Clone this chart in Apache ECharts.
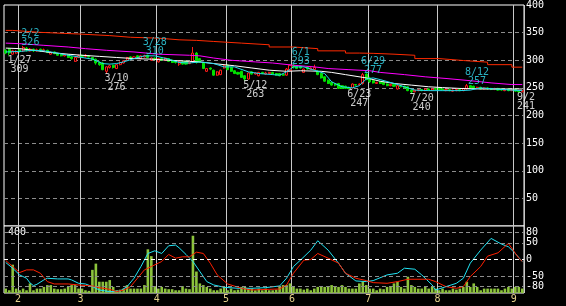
<!DOCTYPE html>
<html><head><meta charset="utf-8">
<script src="https://cdn.jsdelivr.net/npm/echarts@6/dist/echarts.min.js"></script>
<style>html,body{margin:0;padding:0;background:#000;}#c{width:566px;height:306px;}</style>
</head><body><div id="c"></div>
<script>
// ---- data (2022 trading days) ----
const dates = ['01/26','01/27','01/28','01/31',
'02/01','02/02','02/03','02/04','02/07','02/08','02/09','02/10','02/14','02/15','02/16','02/17','02/18','02/21','02/22','02/24','02/25','02/28',
'03/01','03/02','03/03','03/04','03/07','03/08','03/09','03/10','03/11','03/14','03/15','03/16','03/17','03/18','03/22','03/23','03/24','03/25','03/28','03/29','03/30','03/31',
'04/01','04/04','04/05','04/06','04/07','04/08','04/11','04/12','04/13','04/14','04/15','04/18','04/19','04/20','04/21','04/22','04/25','04/26','04/27','04/28',
'05/02','05/06','05/09','05/10','05/11','05/12','05/13','05/16','05/17','05/18','05/19','05/20','05/23','05/24','05/25','05/26','05/27','05/30','05/31',
'06/01','06/02','06/03','06/06','06/07','06/08','06/09','06/10','06/13','06/14','06/15','06/16','06/17','06/20','06/21','06/22','06/23','06/24','06/27','06/28','06/29','06/30',
'07/01','07/04','07/05','07/06','07/07','07/08','07/11','07/12','07/13','07/14','07/15','07/19','07/20','07/21','07/22','07/25','07/26','07/27','07/28','07/29',
'08/01','08/02','08/03','08/04','08/05','08/08','08/09','08/10','08/12','08/15','08/16','08/17','08/18','08/19','08/22','08/23','08/24','08/25','08/26','08/29','08/30','08/31',
'09/01','09/02','09/05'];

// [open, close, low, high]
const ohlc = [
[318,313,311,320],[320,313,309,322],[311,317,310,319],[313,316,312,318],
[319,316,314,321],[317,323,315,326],[322,318,316,324],[317,320,316,322],[320,317,315,321],[317,319,316,321],[320,317,315,321],[317,319,315,321],[318,314,313,319],[311,314,310,316],[315,312,311,316],[312,309,308,313],[311,308,307,312],[308,310,307,311],[310,305,304,311],[306,303,301,307],[298,305,297,306],[305,308,304,310],
[309,307,306,310],[307,309,305,311],[308,306,305,309],[305,301,300,306],[302,295,292,303],[296,292,290,298],[295,283,282,297],[280,288,276,289],[287,290,285,292],[291,287,285,292],[285,292,284,293],[292,296,291,298],[295,299,294,300],[300,305,299,306],[306,303,302,307],[303,306,302,307],[308,305,304,309],[303,308,302,309],[306,308,305,310],[309,305,304,310],[300,304,299,305],[304,302,300,305],
[297,303,296,304],[303,300,299,304],[300,304,299,305],[303,298,297,304],[300,296,295,301],[299,296,294,300],[293,297,290,300],[297,293,292,298],[298,293,292,299],[294,296,293,297],[297,313,295,324],[313,296,294,315],[303,297,296,304],[295,285,284,296],[280,285,279,286],[286,284,282,287],[282,273,272,283],[273,279,272,280],[274,282,273,283],[286,290,285,293],
[291,283,282,292],[287,280,279,288],[281,276,275,282],[278,275,274,279],[280,269,268,281],[272,266,263,273],[266,277,265,278],[279,275,274,280],[275,277,274,278],[272,278,271,279],[278,276,275,279],[275,277,274,279],[276,278,275,279],[278,275,274,279],[276,273,272,277],[276,272,271,277],[274,273,272,275],[273,284,272,286],[281,291,280,292],
[291,288,285,293],[289,285,284,290],[289,286,285,290],[278,284,277,285],[288,284,283,289],[284,286,283,287],[283,287,282,292],[280,274,273,281],[276,268,267,277],[270,262,261,271],[264,258,257,265],[260,255,254,261],[257,255,253,258],[258,249,248,259],[254,249,248,255],[253,249,248,254],[251,249,247,252],[250,257,249,258],[256,255,254,257],[256,257,255,258],[258,274,256,277],[275,265,264,276],
[268,261,259,270],[263,259,258,264],[258,260,257,261],[261,258,257,262],[260,256,255,261],[257,254,253,258],[254,256,253,257],[256,253,252,257],[248,254,247,256],[254,252,251,255],[253,250,249,254],[252,245,244,253],[246,243,240,247],[243,246,242,247],[245,247,244,248],[247,245,244,248],[245,248,244,249],[248,246,245,249],[246,248,245,249],[249,247,246,250],
[250,247,246,251],[248,246,245,249],[245,247,244,248],[247,245,244,248],[244,246,243,247],[245,247,244,248],[247,245,244,248],[245,249,244,250],[248,254,247,257],[254,250,249,255],[253,249,248,254],[249,251,248,252],[251,248,247,252],[248,250,247,251],[250,248,247,251],[249,247,246,250],[247,249,246,250],[249,246,245,250],[248,246,245,249],[245,247,244,248],[248,245,244,249],[245,247,244,248],
[247,244,243,248],[245,243,241,246],[243,245,242,246]];

const volume = [29,18,186,29,18,29,18,63,18,29,29,40,52,52,29,25,25,29,40,52,52,29,
29,18,14,152,193,74,74,74,85,40,18,22,29,52,29,29,29,29,52,287,242,45,
29,40,29,25,25,18,18,45,29,25,376,141,63,52,40,29,18,18,29,40,
18,29,18,22,40,40,29,29,18,29,18,29,18,18,22,40,52,52,63,
40,29,29,22,29,18,29,40,45,40,40,52,45,40,52,40,29,29,29,63,74,52,
29,29,18,29,25,40,40,63,74,40,29,107,52,40,29,29,40,29,40,29,
18,29,18,18,29,22,29,40,74,40,63,40,18,29,29,29,29,29,18,29,40,29,
40,40,29];

// moving-average style lines, read as [day index, price]
const maShort = [[0,315],[4,316],[8,318],[11,317],[14,314],[18,309],[21,306],[25,302],[28,294],[30,293],[32,294],[34,297],[37,303],[40,308],[43,308],[47,302],[50,296],[53,295],[56,297],[60,294],[63,288],[66,288],[70,279],[73,276],[77,274],[79,273],[81,279],[83,288],[86,288],[89,282],[92,276],[94,261],[97,252],[100,250],[102,254],[104,266],[106,268],[108,265],[112,258],[115,252],[118,246],[122,245],[126,245],[131,245],[134,246],[137,250],[141,248],[146,246],[149,245]];
const maMid = [[0,322],[4,321],[8,318],[13,314],[18,311],[22,309],[27,307],[32,305],[37,303],[42,302],[47,300],[53,298],[56,297],[60,294],[66,290],[71,286],[76,282],[81,280],[85,281],[91,280],[94,278],[98,274],[104,268],[108,262],[112,258],[117,255],[122,252],[126,250.5],[131,249],[137,248],[143,248],[149,248]];
const maLong = [[0,331],[4,330],[11,327],[18,324],[23,321],[29,318],[37,315],[44,311],[53,309],[56,308],[60,304],[65,300],[72,297],[77,295],[83,291],[89,288],[93,285],[99,283],[105,281],[108,278],[115,274],[121,270],[127,267],[134,263],[140,259],[146,256],[149,256]];
const maLonger = [[0,354],[2,350.5],[10,347.5],[21,344.6],[30,341.6],[36,340],[44,337],[50,336],[55,334],[60,331],[68,328],[76,324],[83,321],[90,317],[98,313],[102,312.5],[106,311],[112,309],[118,303],[125,299.5],[132,296.5],[139,292],[146,287.5],[149,287.5]];

// oscillators, [day index, value]
const oscFast = [[0,-9],[2,-26],[4,-46],[6,-56],[7,-70],[8,-78],[9,-74],[11,-61],[12,-56],[15,-58],[18,-58],[19,-61],[21,-71],[23,-73],[25,-81],[27,-91],[30,-96],[33,-94],[35,-81],[37,-56],[39,-21],[41,18],[43,26],[45,18],[47,41],[49,43],[50,35],[52,15],[54,-6],[56,-36],[58,-66],[60,-76],[63,-83],[67,-86],[71,-86],[75,-84],[79,-79],[81,-56],[83,-21],[85,-2],[88,28],[90,56],[93,28],[96,-11],[98,-41],[101,-64],[104,-66],[106,-63],[110,-46],[113,-41],[115,-26],[118,-29],[120,-46],[123,-76],[124,-91],[127,-81],[130,-71],[132,-56],[134,-11],[137,28],[140,63],[143,46],[145,38],[147,18],[149,-6]];
const oscSlow = [[0,-3],[2,-21],[4,-39],[6,-31],[8,-31],[10,-41],[12,-66],[14,-73],[18,-73],[21,-76],[25,-79],[27,-84],[30,-89],[32,-96],[34,-91],[36,-81],[38,-56],[40,-31],[42,-21],[44,-11],[45,-6],[47,15],[49,4],[51,8],[53,8],[55,22],[57,18],[59,-11],[61,-46],[64,-73],[68,-86],[71,-91],[76,-89],[79,-88],[81,-76],[83,-41],[86,-2],[88,0],[90,18],[93,4],[96,-11],[98,-41],[101,-56],[104,-63],[106,-69],[110,-71],[113,-66],[116,-59],[122,-59],[124,-66],[127,-81],[130,-86],[132,-81],[134,-51],[137,-21],[139,10],[142,20],[145,48],[148,4],[149,-6]];

const highMarks = [['02/02',326],['03/28',310],['06/01',293],['06/29',277],['08/12',257]];
const lowMarks = [['01/27',309],['03/10',276],['05/12',263],['06/23',247],['07/20',240],['09/02',241]];
const priceTicks = [50,100,150,200,250,300,350,400];
const oscTicks = [80,50,0,-50,-80];
const volTick = 400;

// ---- chart ----
const mono = 'DejaVu Sans Mono';
const isMonthStart = i => i > 0 && dates[i].slice(0,2) !== dates[i-1].slice(0,2);
const markText = (d, v) => { const p = d.split('/'); return (+p[0]) + '/' + (+p[1]) + '\n' + v; };
const markDx = (d, v) => { const t = markText(d, v).split('\n'); return -1.7 + Math.max(...t.map(s => s.length)) * 3; };
const annot = [].concat(
  highMarks.map(([d, v]) => ({value: [d, v], label: {position: 'top', distance: 0, offset: [markDx(d, v), 2], color: '#33dcf0', formatter: markText(d, v)}})),
  lowMarks.map(([d, v]) => ({value: [d, v], label: {position: 'bottom', distance: 0, offset: [markDx(d, v), 0], color: '#ffffff', formatter: markText(d, v)}}))
);

const chart = echarts.init(document.getElementById('c'), null, {renderer: 'canvas'});
const line = (data, color, xi, yi, extra) => Object.assign({type: 'line', data, xAxisIndex: xi, yAxisIndex: yi, showSymbol: false, symbol: 'none', silent: true, lineStyle: {color, width: 1}, z: 3}, extra || {});
const dash = {color: '#8c8c8c', width: 1, type: [4, 3]};

chart.setOption({
  backgroundColor: '#000',
  animation: false,
  grid: [
    {left: 4, right: 42, top: 2, height: 224, show: true, borderColor: '#fff', borderWidth: 1, backgroundColor: '#000'},
    {left: 4, right: 42, top: 226, height: 67, show: true, borderColor: '#fff', borderWidth: 1, backgroundColor: '#000'}
  ],
  xAxis: [
    {type: 'category', gridIndex: 0, data: dates, boundaryGap: true, axisLine: {show: false}, axisTick: {show: false}, axisLabel: {show: false},
     splitLine: {show: true, interval: (i) => isMonthStart(i), lineStyle: {color: '#c8c8c8', width: 1}}},
    {type: 'category', gridIndex: 1, data: dates, boundaryGap: true, axisLine: {show: false}, axisTick: {show: false},
     axisLabel: {show: true, interval: (i) => isMonthStart(i), formatter: (v) => String(+v.slice(0, 2)), color: '#e6d28c', fontFamily: mono, fontSize: 10, margin: 1, padding: [0, 3, 0, 0]},
     splitLine: {show: true, interval: (i) => isMonthStart(i), lineStyle: {color: '#c8c8c8', width: 1}}}
  ],
  yAxis: [
    {type: 'value', gridIndex: 0, position: 'right', min: 0, max: 400, interval: 50, axisLine: {show: false}, axisTick: {show: false},
     axisLabel: {color: '#fff', fontFamily: mono, fontSize: 10, margin: 2, padding: [5, 0, 0, 0], formatter: (v) => priceTicks.includes(v) ? String(v) : ''},
     splitLine: {show: true, showMinLine: false, showMaxLine: false, lineStyle: dash}},
    {type: 'value', gridIndex: 1, position: 'left', min: 0, max: 440, interval: volTick, axisLine: {show: false}, axisTick: {show: false}, splitLine: {show: false},
     axisLabel: {inside: true, color: '#fff', fontFamily: mono, fontSize: 10, margin: 4, formatter: (v) => v === volTick ? String(v) : ''}},
    {type: 'value', gridIndex: 1, position: 'right', min: -100, max: 100, interval: 10, axisLine: {show: false}, axisTick: {show: false}, splitLine: {show: false},
     axisLabel: {color: '#fff', fontFamily: mono, fontSize: 10, margin: 2, formatter: (v) => oscTicks.includes(v) ? String(v) : ''}}
  ],
  series: [
    {type: 'candlestick', xAxisIndex: 0, yAxisIndex: 0, data: ohlc, barWidth: 2.6, silent: true,
     itemStyle: {color: '#000', borderColor: '#ff1a1a', color0: '#00e000', borderColor0: '#00e000', borderWidth: 1}},
    line(maLonger, '#ff2a00', 0, 0, {step: 'end'}),
    line(maLong, '#ff00ff', 0, 0),
    line(maMid, '#ffffff', 0, 0),
    line(maShort, '#22dcf0', 0, 0),
    {type: 'scatter', xAxisIndex: 0, yAxisIndex: 0, data: annot, symbolSize: 1, silent: true, z: 10,
     itemStyle: {color: 'rgba(0,0,0,0)'},
     label: {show: true, fontFamily: mono, fontSize: 10, lineHeight: 9, align: 'center'}},
    {type: 'bar', xAxisIndex: 1, yAxisIndex: 1, data: volume, barWidth: '75%', silent: true, itemStyle: {color: '#8cc43c'}},
    line(oscFast, '#22e4f4', 1, 2, {markLine: {silent: true, symbol: ['none', 'none'], label: {show: false}, animation: false,
      data: oscTicks.map(v => ({yAxis: v, lineStyle: v === 0 ? {color: '#ffffff', width: 1, type: [4, 3]} : dash}))}}),
    line(oscSlow, '#ff2000', 1, 2)
  ]
});
</script>
</body></html>
